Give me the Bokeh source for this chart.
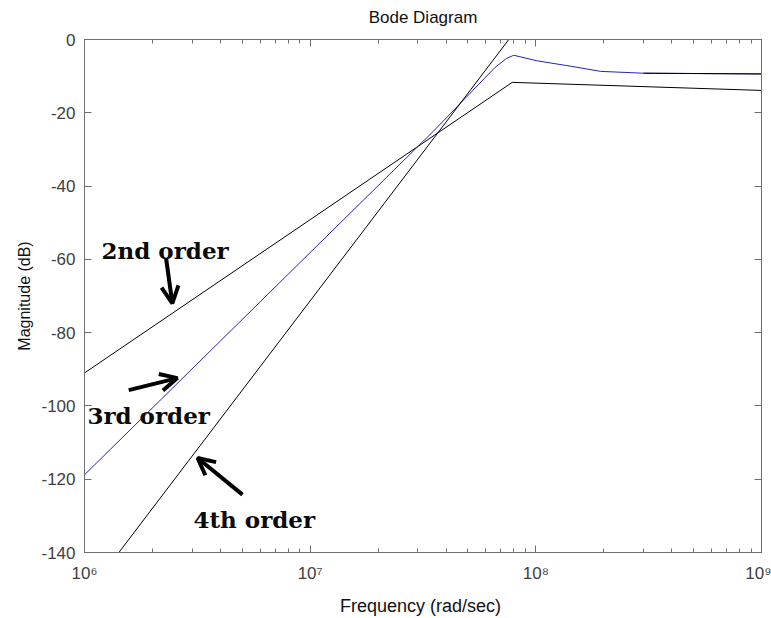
from bokeh.plotting import figure
from bokeh.models import (ColumnDataSource, LogAxis, LinearAxis, Arrow, OpenHead,
                          CustomJSTickFormatter, FixedTicker, LogTicker)
from bokeh.core.properties import value
from bokeh.embed import file_html
from bokeh.resources import INLINE

# ---- data (frequency in rad/s, magnitude in dB) ----
second_freq = [1.0e6, 7.86e7, 1.0e9]
second_mag = [-91.0, -11.7, -13.9]

third_freq = [1.0e6, 3.52e7, 6.6e7, 7.4e7, 7.98e7, 1.01e8, 1.43e8, 1.94e8, 3.0e8, 1.0e9]
third_mag = [-118.8, -25.0, -7.6, -5.2, -4.3, -5.8, -7.3, -8.7, -9.2, -9.4]

fourth_freq = [1.42e6, 7.59e7]
fourth_mag = [-140.0, 0.0]
fourth_tail_freq = [3.0e8, 1.0e9]
fourth_tail_mag = [-9.2, -9.4]

label_texts = ["2nd order", "3rd order", "4th order"]
label_freq = [1.19e6, 1.03e6, 3.04e6]
label_mag = [-57.6, -102.5, -131.0]

arrow_start_freq = [2.30e6, 1.57e6, 5.01e6]
arrow_start_mag = [-59.8, -95.7, -124.2]
arrow_end_freq = [2.45e6, 2.58e6, 3.17e6]
arrow_end_mag = [-72.0, -92.4, -114.2]

y_ticks = [-140, -120, -100, -80, -60, -40, -20, 0]

AX = "#6f6f6f"
TXT = "#404040"
FONT = "Liberation Sans"

p = figure(width=771, height=618, x_axis_type="log",
           x_range=(1e6, 1e9), y_range=(-140, 0),
           output_backend="svg", toolbar_location=None,
           title="Bode Diagram",
           min_border_left=84, min_border_right=10,
           min_border_top=38, min_border_bottom=65)

p.title.align = "center"
p.title.text_font = FONT
p.title.text_font_size = "17px"
p.title.text_font_style = "normal"
p.title.text_color = "#111111"

p.grid.visible = False
p.outline_line_color = AX
p.outline_line_width = 1
p.background_fill_color = "white"
p.border_fill_color = "white"

sup = CustomJSTickFormatter(code="""
const s = {'0':'\u2070','1':'\u00b9','2':'\u00b2','3':'\u00b3','4':'\u2074','5':'\u2075','6':'\u2076','7':'\u2077','8':'\u2078','9':'\u2079','-':'\u207b'};
const e = Math.round(Math.log10(tick));
return '10' + String(e).split('').map(c => s[c]).join('');
""")
plain = CustomJSTickFormatter(code="return String(Math.round(tick));")
blank = CustomJSTickFormatter(code="return ' ';")

xa = p.xaxis[0]
xa.ticker = LogTicker(num_minor_ticks=10)
xa.formatter = sup
xa.axis_label = "Frequency  (rad/sec)"
ya = p.yaxis[0]
ya.ticker = FixedTicker(ticks=y_ticks)
ya.formatter = plain
ya.axis_label = "Magnitude (dB)"

for ax in (xa, ya):
    ax.axis_line_color = AX
    ax.major_tick_line_color = AX
    ax.minor_tick_line_color = AX
    ax.major_tick_in = 7
    ax.major_tick_out = 0
    ax.minor_tick_in = 4
    ax.minor_tick_out = 0
    ax.major_label_text_font = FONT
    ax.major_label_text_color = TXT
    ax.major_label_text_font_size = "17px"
    ax.axis_label_text_font = FONT
    ax.axis_label_text_font_style = "normal"
    ax.axis_label_text_color = "#111111"
ya.minor_tick_line_color = None
xa.axis_label_text_font_size = "18px"
ya.axis_label_text_font_size = "16px"
xa.major_label_standoff = 11
ya.major_label_standoff = 9
xa.axis_label_standoff = 10
ya.axis_label_standoff = 5

top = LogAxis(ticker=LogTicker(num_minor_ticks=10), formatter=blank,
              major_label_text_font_size="4px",
              axis_line_color=AX, major_tick_line_color=AX, minor_tick_line_color=AX,
              major_tick_in=7, major_tick_out=0, minor_tick_in=4, minor_tick_out=0,
              major_label_standoff=0)
right = LinearAxis(ticker=FixedTicker(ticks=y_ticks), formatter=blank,
                   major_label_text_font_size="4px",
                   axis_line_color=AX, major_tick_line_color=AX, minor_tick_line_color=None,
                   major_tick_in=7, major_tick_out=0, major_label_standoff=0)
p.add_layout(top, "above")
p.add_layout(right, "right")

p.line(second_freq, second_mag, line_color="black", line_width=1)
p.line(third_freq, third_mag, line_color="#2424b8", line_width=1)
p.line(fourth_freq, fourth_mag, line_color="black", line_width=1)
p.line(fourth_tail_freq, fourth_tail_mag, line_color="black", line_width=1)

src = ColumnDataSource(dict(x=label_freq, y=label_mag, t=label_texts))
p.text(x="x", y="y", text="t", source=src, text_font=value("DejaVu Serif"),
       text_font_style="bold", text_font_size="23px", text_color="#0a0a0a",
       text_baseline="alphabetic", text_align="left")

for xs, ys, xe, ye in zip(arrow_start_freq, arrow_start_mag, arrow_end_freq, arrow_end_mag):
    p.add_layout(Arrow(x_start=xs, y_start=ys, x_end=xe, y_end=ye,
                       line_width=4, line_color="black",
                       end=OpenHead(size=17, line_width=4, line_color="black")))

open("out.html", "w").write(file_html(p, INLINE))
